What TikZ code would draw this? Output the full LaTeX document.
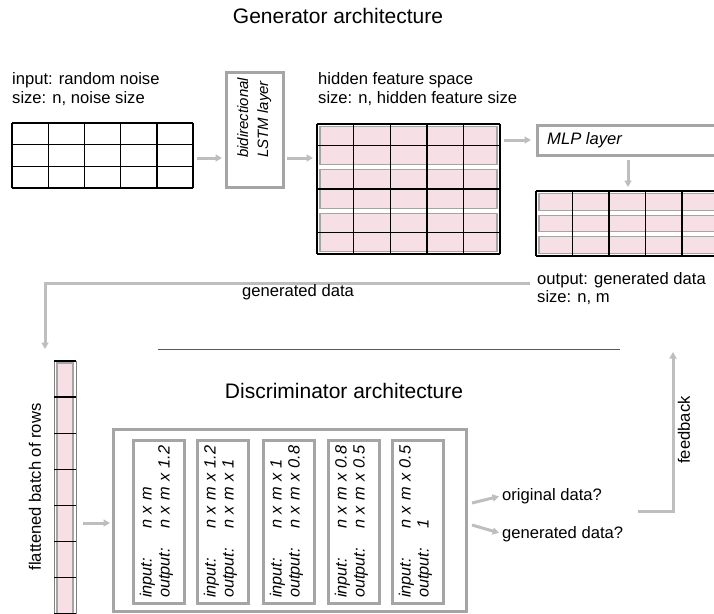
\documentclass[tikz,border=0pt]{standalone}
\usepackage{fontspec}
\setmainfont{Liberation Sans}
\usetikzlibrary{arrows.meta,calc}
\definecolor{arrgray}{RGB}{190,190,190}
\definecolor{boxgray}{RGB}{165,165,165}
\definecolor{pinkc}{RGB}{247,224,229}
\definecolor{sepgray}{RGB}{90,90,90}
\begin{document}
\begin{tikzpicture}[x=1pt,y=-1pt,
  txt/.style={font=\fontsize{16.6}{19}\selectfont, inner sep=0pt},
  ittxt/.style={font=\itshape\fontsize{16.6}{19}\selectfont, inner sep=0pt},
  ttl/.style={font=\fontsize{21}{24}\selectfont, inner sep=0pt},
  gbox/.style={draw=boxgray, line width=3pt},
  nwbox/.style={inner sep=0pt, outer sep=0pt, anchor=north west},
  arr/.style={draw=arrgray, line width=3pt, -{Triangle[length=6.5pt,width=7pt]}},
  gline/.style={black, line width=1.4pt},
  rowbox/.style={draw=boxgray, fill=pinkc, line width=1.3pt},
  laytxt/.style={rotate=90, anchor=base west, inner sep=0pt, font=\itshape\fontsize{16.3}{18}\selectfont},
]
\useasboundingbox (0,0) rectangle (714,613);
\clip (0,0) rectangle (714,613);

% ---------- Generator ----------
\node[ttl] (gtitle) at (338,16) {Generator architecture};

\node[txt, anchor=base west] (inl1) at (12,84) {input: random noise};
\node[txt, anchor=base west] (inl2) at (12,103) {size: n, noise size};

% noise grid
\node[nwbox, minimum width=181pt, minimum height=65pt] (noise) at (12,123) {};
\foreach \i in {0,...,5} \draw[gline] (12+\i*36.2,123) -- (12+\i*36.2,188);
\foreach \j in {0,...,3} \draw[gline] (12,123+\j*21.667) -- (193,123+\j*21.667);

% LSTM box
\node[gbox, nwbox, minimum width=57pt, minimum height=115pt] (lstm) at (226,72) {};
\node[laytxt, font=\itshape\fontsize{15}{19}\selectfont] (lstmt1) at (248,158) {bidirectional};
\node[laytxt, font=\itshape\fontsize{15}{19}\selectfont] (lstmt2) at (268,158) {LSTM layer};

\draw[arr, shorten <=4pt, shorten >=4pt] ([yshift=-2.5pt]noise.east) coordinate (n1) -- (n1 -| lstm.west);

% hidden feature space
\node[txt, anchor=base west] (hl1) at (318,84) {hidden feature space};
\node[txt, anchor=base west] (hl2) at (318,103) {size: n, hidden feature size};

\node[nwbox, minimum width=183pt, minimum height=130pt] (hidden) at (317,124) {};
\foreach \g in {0,1,2} \draw[rowbox] (320,124+\g*43.333+2.5) rectangle (497,124+\g*43.333+43.333-2.5);
\foreach \i in {0,...,5} \draw[gline] (317+\i*36.6,124) -- (317+\i*36.6,254);
\foreach \y in {124,145.667,189,232.333,254} \draw[gline] (317,\y) -- (500,\y);

\draw[arr, shorten <=4pt, shorten >=4pt] (n1 -| lstm.east) -- (n1 -| hidden.west);

% MLP layer
\node[gbox, nwbox, minimum width=185pt, minimum height=30pt] (mlp) at (537,125) {};
\node[ittxt, anchor=west] (mlpt) at (547,140) {MLP layer};
\draw[arr, shorten <=4pt, shorten >=6pt] (mlp.west -| hidden.east) -- (mlp.west);

% output grid
\node[nwbox, minimum width=183pt, minimum height=65pt] (outg) at (536,191) {};
\foreach \r in {0,1,2} \draw[rowbox] (539,191+\r*21.667+2.5) rectangle (740,191+\r*21.667+21.667-2.5);
\foreach \i in {0,...,5} \draw[gline] (536+\i*36.5,191) -- (536+\i*36.5,256);
\foreach \y in {191,256} \draw[gline] (536,\y) -- (740,\y);

\coordinate (mdown) at (628,155);
\draw[arr, shorten <=5pt, shorten >=4pt] (mdown) -- (mdown |- outg.north);

\node[txt, anchor=base west] (outl1) at (537,284) {output: generated data};
\node[txt, anchor=base west] (outl2) at (537,302) {size: n, m};

% generated data feed
\coordinate (g0) at (530,283);
\coordinate (g1) at (45,283);
\coordinate (g2) at (45,349);
\draw[arr] (g0) -- (g1) -- (g2);
\node[txt, anchor=base west] (gdl) at (242,296) {generated data};

% separator
\coordinate (s0) at (158,349);
\coordinate (s1) at (620,349);
\draw[sepgray, line width=1pt] (s0) -- (s1);

% ---------- Discriminator ----------
\node[ttl] (dtitle) at (344,391) {Discriminator architecture};

% flattened column
\node[nwbox, minimum width=22pt, minimum height=260pt] (flat) at (54,361) {};
\draw[draw=gray, line width=0.8pt] (54,361) rectangle (76,640);
\draw[rowbox] (57,363) rectangle (73,640);
\foreach \k in {0,...,7} \draw[gline] (54,361+\k*36.1) -- (76,361+\k*36.1);
\node[txt, rotate=90] (flatl) at (35,487) {flattened batch of rows};

% discriminator box
\node[gbox, nwbox, minimum width=353pt, minimum height=182pt] (disc) at (113,429) {};
\draw[arr, shorten <=7pt, shorten >=3pt] ([yshift=-3pt]disc.west) coordinate (d1) (d1 -| flat.east) -- (d1);

\foreach \x/\n/\a/\b in {133/L1/n x m/n x m x 1.2,197/L2/n x m x 1.2/n x m x 1,263/L3/n x m x 1/n x m x 0.8,328/L4/n x m x 0.8/n x m x 0.5,392/L5/n x m x 0.5/1}{
  \node[gbox, nwbox, minimum width=51pt, minimum height=163pt] (\n) at (\x,440) {};
  \node[laytxt] (\n i) at (\x+18.5,598) {input:};
  \node[laytxt] (\n o) at (\x+36.5,598) {output:};
  \node[laytxt] (\n a) at (\x+18.5,529) {\spaceskip=0.33em\relax \a};
  \node[laytxt] (\n b) at (\x+36.5,529) {\spaceskip=0.33em\relax \b};
}

% outputs
\node[txt, anchor=base west] (orig) at (502,500) {original data?};
\node[txt, anchor=base west] (gen) at (502,538) {generated data?};
\coordinate (od) at (472,503);
\coordinate (gd) at (472,525);
\draw[arr, shorten >=3pt] (od) -- (orig.west);
\draw[arr, shorten >=3pt] (gd) -- (gen.west);

% feedback
\coordinate (f0) at (638,511);
\coordinate (f1) at (673,352);
\draw[arr] (f0) -| (f1);
\node[txt, rotate=90] (fbl) at (684,430) {feedback};
\end{tikzpicture}
\end{document}
